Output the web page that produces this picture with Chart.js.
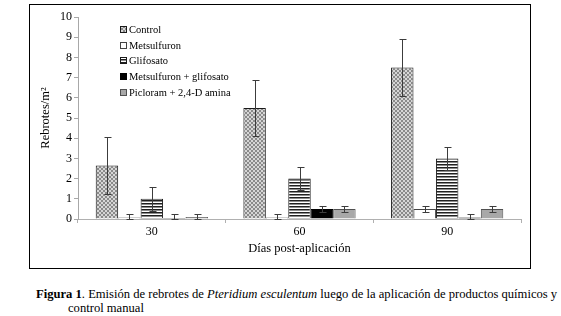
<!DOCTYPE html>
<html>
<head>
<meta charset="utf-8">
<script src="https://cdn.jsdelivr.net/npm/chart.js@4"></script>
<style>
  body { margin: 0; background: #fff; width: 561px; height: 316px; overflow: hidden; position: relative;
         font-family: "Liberation Serif", "Times New Roman", serif; color: #000; }
  #box { position: absolute; left: 29px; top: 4px; width: 500px; height: 263px; border: 1px solid #000; }
  #box canvas { display: block; }
  #cap { position: absolute; left: 36px; top: 287px; font-size: 12.6px; line-height: 14px; white-space: nowrap; }
  #cap .l2 { padding-left: 32px; }
</style>
</head>
<body>
<div id="box"><canvas id="chart" width="500" height="263"></canvas></div>
<div id="cap"><b>Figura 1</b>. Emisión de rebrotes de <i>Pteridium esculentum</i> luego de la aplicación de productos químicos y<br><span class="l2">control manual</span></div>
<script>
// días post-aplicación
const days = ['30', '60', '90'];

// rebrotes/m2 and error bars per treatment
const control = [2.65, 5.5, 7.5];
const controlErr = [1.4, 1.4, 1.4];
const metsulfuron = [0.08, 0.08, 0.5];
const metsulfuronErr = [0.17, 0.15, 0.13];
const glifosato = [1.0, 2.0, 3.0];
const glifosatoErr = [0.58, 0.58, 0.58];
const metGlifosato = [0.05, 0.5, 0.07];
const metGlifosatoErr = [0.2, 0.13, 0.16];
const picloram = [0.1, 0.5, 0.5];
const picloramErr = [0.15, 0.13, 0.13];

function makePattern(kind) {
  const c = document.createElement('canvas');
  const g = c.getContext('2d');
  if (kind === 'cross') {
    c.width = 4; c.height = 4;
    g.fillStyle = '#d6d6d6';
    g.fillRect(0, 0, 4, 4);
    g.fillStyle = '#8a8a8a';
    for (let i = 0; i < 4; i++) {
      g.fillRect(i, i, 1, 1);
      g.fillRect(3 - i, i, 1, 1);
    }
  } else {
    c.width = 3; c.height = 3;
    g.fillStyle = '#ffffff';
    g.fillRect(0, 0, 3, 3);
    g.fillStyle = '#202020';
    g.fillRect(0, 0, 3, 1);
    g.fillStyle = '#8c8c8c';
    g.fillRect(0, 1, 3, 1);
  }
  return g.createPattern(c, 'repeat');
}

const ctx = document.getElementById('chart').getContext('2d');
const crossFill = makePattern('cross');
const stripeFill = makePattern('stripes');

// error bars drawn on top of the bars
const errorBars = {
  id: 'errorBars',
  afterDatasetsDraw(chart) {
    const c = chart.ctx;
    const y = chart.scales.y;
    c.save();
    c.strokeStyle = '#3c3c3c';
    c.lineWidth = 1;
    chart.data.datasets.forEach((ds, di) => {
      const meta = chart.getDatasetMeta(di);
      meta.data.forEach((bar, i) => {
        const v = ds.data[i];
        const e = ds.errors[i];
        const x = Math.round(bar.x) + 0.5;
        const top = Math.round(y.getPixelForValue(v + e)) + 0.5;
        const bot = Math.round(y.getPixelForValue(Math.max(v - e, 0))) + 0.5;
        c.beginPath();
        c.moveTo(x, top); c.lineTo(x, bot);
        c.moveTo(x - 3, top); c.lineTo(x + 4, top);
        c.moveTo(x - 3, bot); c.lineTo(x + 4, bot);
        c.stroke();
      });
    });
    c.restore();
  }
};

// legend inside the plot area, top left
const insideLegend = {
  id: 'insideLegend',
  afterDraw(chart) {
    const c = chart.ctx;
    const area = chart.chartArea;
    c.save();
    c.font = '10.5px "Liberation Serif", "Times New Roman", serif';
    c.textBaseline = 'middle';
    chart.data.datasets.forEach((ds, i) => {
      const sx = area.left + 42;
      const sy = Math.round(area.top + 12 + i * 15.7);
      c.fillStyle = ds.backgroundColor;
      c.fillRect(sx, sy - 3, 7, 7);
      c.strokeStyle = ds.borderColor;
      c.lineWidth = 1;
      c.strokeRect(sx + 0.5, sy - 2.5, 6, 6);
      c.fillStyle = '#000';
      c.fillText(ds.label, sx + 9, sy + 1);
    });
    c.restore();
  }
};

new Chart(ctx, {
  type: 'bar',
  data: {
    labels: days,
    datasets: [
      { label: 'Control', data: control, errors: controlErr, backgroundColor: crossFill, borderColor: '#1a1a1a' },
      { label: 'Metsulfuron', data: metsulfuron, errors: metsulfuronErr, backgroundColor: '#ffffff', borderColor: '#444444' },
      { label: 'Glifosato', data: glifosato, errors: glifosatoErr, backgroundColor: stripeFill, borderColor: '#1a1a1a' },
      { label: 'Metsulfuron + glifosato', data: metGlifosato, errors: metGlifosatoErr, backgroundColor: '#000000', borderColor: '#000000' },
      { label: 'Picloram + 2,4-D amina', data: picloram, errors: picloramErr, backgroundColor: '#a8a8a8', borderColor: '#505050' }
    ]
  },
  options: {
    responsive: false,
    animation: false,
    devicePixelRatio: 1,
    layout: { padding: { left: 0, top: 12, right: 9, bottom: 0 } },
    datasets: {
      bar: { barPercentage: 1, categoryPercentage: 0.76, borderWidth: 1 }
    },
    plugins: {
      legend: { display: false },
      tooltip: { enabled: false }
    },
    scales: {
      x: {
        afterFit: (s) => { s.height = 49; },
        grid: { drawOnChartArea: false, tickLength: 4, color: '#b0b0b0' },
        border: { color: '#b0b0b0' },
        ticks: { color: '#000', padding: 2, font: { family: '"Liberation Serif", "Times New Roman", serif', size: 12 } },
        title: {
          display: true,
          text: 'Días post-aplicación',
          color: '#000',
          padding: { top: 0, bottom: 12 },
          font: { family: '"Liberation Serif", "Times New Roman", serif', size: 12.5 }
        }
      },
      y: {
        min: 0,
        max: 10,
        afterFit: (s) => { s.width = 48; },
        grid: { drawOnChartArea: false, tickLength: 4, color: '#a8a8a8' },
        border: { color: '#a8a8a8' },
        ticks: { stepSize: 1, color: '#000', padding: 2, font: { family: '"Liberation Serif", "Times New Roman", serif', size: 12 } },
        title: {
          display: true,
          text: 'Rebrotes/m²',
          color: '#000',
          padding: { top: 8, bottom: 0 },
          font: { family: '"Liberation Serif", "Times New Roman", serif', size: 12.5 }
        }
      }
    }
  },
  plugins: [errorBars, insideLegend]
});
</script>
</body>
</html>
